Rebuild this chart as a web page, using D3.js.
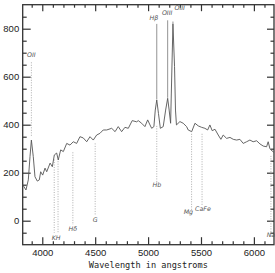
<!DOCTYPE html>
<html>
<head>
<meta charset="utf-8">
<script src="https://cdn.jsdelivr.net/npm/d3@7"></script>
<style>
  body { margin: 0; background: #fff; }
  svg { display: block; }
  .tick text { font-family: "Liberation Sans", Arial, sans-serif; font-size: 9.5px; fill: #222; }
  .tick line { stroke: #333; stroke-width: 1.2; }
  .lineLabel { font-family: "DejaVu Sans", sans-serif; font-style: italic; font-size: 6.3px; fill: #555; }
</style>
</head>
<body>
<div class="svg-container"></div>
<script>
// spectrum
let wavelength = [3815, 3846, 3868, 3884, 3897, 3915, 3931, 3953, 3972, 3985, 4004, 4026, 4042, 4074, 4095, 4114, 4136, 4151, 4174, 4199,
  4231, 4262, 4293, 4325, 4356, 4387, 4420, 4451, 4482, 4514, 4545, 4576, 4609, 4656, 4688, 4718, 4750, 4781, 4813, 4850,
  4892, 4907, 4939, 4970, 4996, 5018, 5034, 5055, 5068, 5082, 5098, 5116, 5143, 5166, 5185, 5199, 5213, 5235, 5250, 5259,
  5268, 5301, 5332, 5364, 5379, 5412, 5443, 5474, 5506, 5537, 5563, 5584, 5606, 5632, 5663, 5688, 5710, 5742, 5774, 5805,
  5837, 5868, 5899, 5931, 5962, 5993, 6026, 6057, 6088, 6120, 6135, 6151, 6173, 6190];
let flux = [150, 128, 170, 267, 336, 267, 183, 165, 170, 204, 190, 219, 204, 240, 225, 274, 282, 253, 295, 288,
  322, 315, 329, 322, 350, 345, 329, 350, 336, 357, 364, 378, 378, 385, 371, 392, 371, 389, 385, 417,
  412, 417, 406, 392, 420, 399, 385, 392, 461, 503, 447, 385, 392, 461, 510, 461, 406, 820, 642, 461,
  399, 413, 406, 392, 378, 371, 406, 395, 389, 385, 378, 399, 375, 381, 357, 339, 357, 343, 347, 339,
  336, 339, 322, 329, 336, 329, 333, 320, 311, 308, 329, 301, 290, 285];

// emission lines, labelled at the top
let emName = ["OII", "Hβ", "OIII", "OIII"];
let emWave = [3897, 5082, 5185, 5235];
let emLabelAt = [682, 838, 856, 878];
let emLineTop = [660, 820, 835, 830];
let emLineBottom = [350, 505, 512, 820];
let emDotted = [true, false, false, false];
let emAnchor = ["middle", "end", "middle", "start"];
let emShift = [0, 1.5, -0.5, 1.5];

// absorption lines, labelled below
let abName = ["KH", "Hδ", "G", "Hb", "Mg", "CaFe", "Na"];
let abWave = [4131, 4289, 4500, 5082, 5411, 5510, 6161];
let abLabelAt = [-80, -42, -5, 140, 30, 42, -68];
let abAnchor = ["middle", "middle", "middle", "middle", "end", "start", "middle"];
let abShift = [0, 0, 0, 0, 1.5, -7, 0];
let lineWave = [4113, 4149, 4289, 4500, 5082, 5411, 5510, 6161];
let lineTop = [255, 248, 285, 322, 395, 362, 362, 270];
let lineBottom = [-50, -50, -18, 22, 160, 45, 62, -55];

let xMajor = [4000, 4500, 5000, 5500, 6000];
let yMajor = [0, 200, 400, 600, 800];

let width = 275,
  height = 273;
let margin = {left: 22.7, right: 274, top: 4.7, bottom: 244.7};

let svg = d3.select(".svg-container").append("svg")
  .attr("width", width)
  .attr("height", height);

const xScale = d3.scaleLinear()
  .domain([3815, 6190])
  .range([margin.left, margin.right]);

const yScale = d3.scaleLinear()
  .domain([-100, 900])
  .range([margin.bottom, margin.top]);

let xMinor = d3.range(3900, 6200, 100).filter(d => xMajor.indexOf(d) < 0);
let yMinor = d3.range(-50, 900, 50).filter(d => yMajor.indexOf(d) < 0);

// bottom axis
svg.append("g")
  .attr("transform", "translate(0," + margin.bottom + ")")
  .call(d3.axisBottom(xScale).tickValues(xMajor).tickSize(-7.5).tickPadding(5).tickFormat(d3.format("d")));
svg.append("g")
  .attr("transform", "translate(0," + margin.bottom + ")")
  .call(d3.axisBottom(xScale).tickValues(xMinor).tickSize(-3.5).tickFormat(""));

// top axis
svg.append("g")
  .attr("transform", "translate(0," + margin.top + ")")
  .call(d3.axisTop(xScale).tickValues(xMajor).tickSize(-6.5).tickFormat(""));
svg.append("g")
  .attr("transform", "translate(0," + margin.top + ")")
  .call(d3.axisTop(xScale).tickValues(xMinor).tickSize(-3).tickFormat(""));

// left axis
svg.append("g")
  .attr("transform", "translate(" + margin.left + ",0)")
  .call(d3.axisLeft(yScale).tickValues(yMajor).tickSize(-8).tickPadding(3.5).tickFormat(d3.format("d")));
svg.append("g")
  .attr("transform", "translate(" + margin.left + ",0)")
  .call(d3.axisLeft(yScale).tickValues(yMinor).tickSize(-4).tickFormat(""));

// right axis
svg.append("g")
  .attr("transform", "translate(" + margin.right + ",0)")
  .call(d3.axisRight(yScale).tickValues(yMajor).tickSize(-7).tickFormat(""));
svg.append("g")
  .attr("transform", "translate(" + margin.right + ",0)")
  .call(d3.axisRight(yScale).tickValues(yMinor).tickSize(-3.5).tickFormat(""));

svg.selectAll(".domain").remove();

// frame
svg.append("rect")
  .attr("x", margin.left)
  .attr("y", margin.top)
  .attr("width", margin.right - margin.left)
  .attr("height", margin.bottom - margin.top)
  .style("fill", "none")
  .style("stroke", "#333")
  .style("stroke-width", 1.3);

// marker lines
svg.selectAll(".emLine")
  .data(emWave)
  .enter()
  .append("line")
  .attr("x1", d => xScale(d))
  .attr("x2", d => xScale(d))
  .attr("y1", (d, i) => yScale(emLineTop[i]))
  .attr("y2", (d, i) => yScale(emLineBottom[i]))
  .style("stroke", (d, i) => emDotted[i] ? "#999" : "#888")
  .style("stroke-width", (d, i) => emDotted[i] ? 0.8 : 0.9)
  .style("stroke-dasharray", (d, i) => emDotted[i] ? "1,1.5" : null);

svg.selectAll(".abLine")
  .data(lineWave)
  .enter()
  .append("line")
  .attr("x1", d => xScale(d))
  .attr("x2", d => xScale(d))
  .attr("y1", (d, i) => yScale(lineTop[i]))
  .attr("y2", (d, i) => yScale(lineBottom[i]))
  .style("stroke", "#999")
  .style("stroke-width", 0.8)
  .style("stroke-dasharray", "1,1.5");

// spectrum
const line = d3.line()
  .x((d, i) => xScale(wavelength[i]))
  .y(d => yScale(d));

svg.append("path")
  .datum(flux)
  .attr("d", line)
  .style("fill", "none")
  .style("stroke", "#555")
  .style("stroke-width", 0.9);

// line labels
svg.selectAll(".emText")
  .data(emName)
  .enter()
  .append("text")
  .attr("class", "lineLabel")
  .attr("x", (d, i) => xScale(emWave[i]) + emShift[i])
  .attr("y", (d, i) => yScale(emLabelAt[i]))
  .attr("text-anchor", (d, i) => emAnchor[i])
  .text(d => d);

svg.selectAll(".abText")
  .data(abName)
  .enter()
  .append("text")
  .attr("class", "lineLabel")
  .attr("x", (d, i) => xScale(abWave[i]) + abShift[i])
  .attr("y", (d, i) => yScale(abLabelAt[i]))
  .attr("text-anchor", (d, i) => abAnchor[i])
  .text(d => d);

// x title
svg.append("text")
  .text("Wavelength in angstroms")
  .attr("x", (margin.left + margin.right) / 2)
  .attr("y", 268)
  .attr("text-anchor", "middle")
  .style("font-family", "'DejaVu Sans Mono', monospace")
  .style("font-size", "8.6px")
  .style("fill", "#222");
</script>
</body>
</html>
